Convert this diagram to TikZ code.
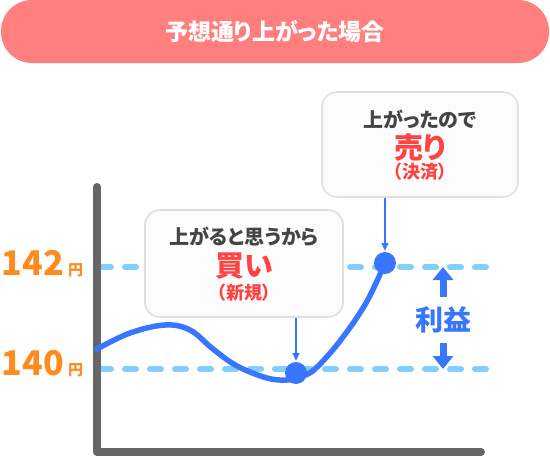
\documentclass[tikz,border=0pt]{standalone}
\usepackage{fontspec}
\setmainfont{Noto Sans CJK JP}[RawFeature=+palt]
\usepackage{tikz}
\usetikzlibrary{arrows.meta, positioning, calc}
\definecolor{mypink}{RGB}{255,127,127}
\definecolor{mygray}{RGB}{102,102,102}
\definecolor{myorange}{RGB}{255,138,30}
\definecolor{myblue}{RGB}{56,118,255}
\definecolor{mysky}{RGB}{130,206,255}
\definecolor{myred}{RGB}{255,66,66}
\definecolor{mytext}{RGB}{68,68,68}
\definecolor{boxframe}{RGB}{224,224,224}
\definecolor{boxfill}{RGB}{252,252,252}
\tikzset{
  titlebar/.style={rectangle, fill=mypink, rounded corners=31pt,
    minimum width=548pt, minimum height=63pt, text=white,
    font=\bfseries\fontsize{23}{26}\selectfont},
  callout/.style={rectangle, draw=boxframe, fill=boxfill,
    rounded corners=15pt, line width=1.6pt},
  lead/.style={inner sep=0pt, text=mytext, font=\bfseries\fontsize{20}{22}\selectfont},
  action/.style={inner sep=0pt, text=myred, font=\bfseries\fontsize{29}{31}\selectfont},
  subnote/.style={inner sep=0pt, text=myred, font=\bfseries\fontsize{18}{20}\selectfont},
  price/.style={inner sep=0pt, text=myorange, font=\bfseries\fontsize{34}{36}\selectfont},
  yen/.style={inner sep=0pt, text=myorange, font=\bfseries\fontsize{15}{17}\selectfont},
  profit/.style={inner xsep=0pt, inner ysep=10pt, text=myblue,
    font=\bfseries\fontsize{28}{30}\selectfont},
  guide/.style={mysky, line width=6pt, line cap=round, dash pattern=on 11pt off 14pt},
  axisline/.style={mygray, line width=8pt, line cap=round, line join=round},
  trend/.style={myblue, line width=5.5pt, line cap=round},
  tradept/.style={circle, fill=myblue, minimum size=22pt, inner sep=0pt},
  arrow/.style={-{Triangle[length=8pt, width=7pt]}, myblue, line width=1.6pt},
  bigarrow/.style={-{Triangle[length=13pt, width=20pt]}, myblue, line width=7pt}
}

\begin{document}
\begin{tikzpicture}[x=1pt, y=-1pt]
  \useasboundingbox (0,0) rectangle (550,458);
  \node[titlebar] (title) at (275,31.5) {予想通り上がった場合};

  % price levels
  \coordinate (hi) at (100,267);
  \coordinate (hiend) at (491,267);
  \coordinate (lo) at (100,369);
  \coordinate (loend) at (491,369);
  \draw[guide] (hi) -- (hiend);
  \draw[guide] (lo) -- (loend);

  % axes
  \coordinate (ytop) at (97,187);
  \coordinate (origin) at (97,452);
  \coordinate (xend) at (481,452);
  \draw[axisline] (ytop) -- (origin) -- (xend);

  \node[price, anchor=base east] (p142) at (64,275) {142};
  \node[yen, right=4pt of p142.base east, anchor=base west] (y142) {円};
  \node[price, anchor=base east] (p140) at (64,375) {140};
  \node[yen, right=4pt of p140.base east, anchor=base west] (y140) {円};

  % price curve
  \draw[trend] plot[smooth, tension=0.6] coordinates {(97,349) (130,333) (165,325)
    (190,330) (213,349) (237,366) (267,378) (287,380) (300,377) (315,369)
    (340,341) (366,303) (385,263)};
  \node[tradept] (buy) at (296,373) {};
  \node[tradept] (sell) at (385,263) {};

  % callouts
  \node[callout, minimum width=198pt, minimum height=107pt] (buybox) at (244,263.5) {};
  \node[lead] (buywhy) at ($(buybox.north)+(0,28)$) {上がると思うから};
  \node[action] (buyact) at ($(buybox.north)+(0,57)$) {買い};
  \node[subnote] (buynote) at ($(buybox.north)+(0,83)$) {（新規）};

  \node[callout, minimum width=196pt, minimum height=105pt] (sellbox) at (420,144.5) {};
  \node[lead] (sellwhy) at ($(sellbox.north)+(0,28)$) {上がったので};
  \node[action] (sellact) at ($(sellbox.north)+(0,56)$) {売り};
  \node[subnote] (sellnote) at ($(sellbox.north)+(0,80)$) {（決済）};

  \draw[arrow, shorten >=1pt] (buy |- buybox.south) -- (buy);
  \draw[arrow, shorten >=1pt] (sell |- sellbox.south) -- (sell);

  % profit span
  \node[profit] (gain) at (443,320) {利益};
  \draw[bigarrow] (gain.north) -- (gain |- hi);
  \draw[bigarrow] (gain.south) -- (gain |- lo);
\end{tikzpicture}
\end{document}
